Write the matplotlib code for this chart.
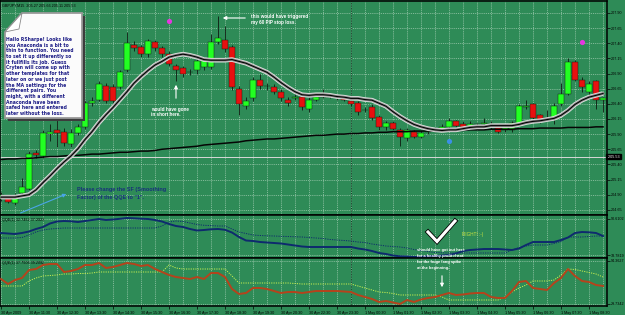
import matplotlib
matplotlib.use('Agg')
import matplotlib.pyplot as plt
import numpy as np
from matplotlib.patches import Polygon, FancyArrowPatch
from matplotlib.lines import Line2D
import matplotlib.patheffects as pe
import matplotlib.transforms as mtransforms

# ---------------- data ----------------
opens = [204.83, 204.86, 204.76, 204.93, 205.00, 205.59, 205.54, 205.91, 205.97, 205.94,
         205.74, 205.92, 206.02, 206.42, 206.47, 206.69, 206.67, 206.67, 206.95, 207.37,
         207.33, 207.22, 207.42, 207.32, 207.23, 207.02, 206.99, 206.92, 206.95, 207.00,
         207.00, 207.42, 207.45, 207.33, 206.64, 206.36, 206.49, 206.80, 206.69, 206.67,
         206.59, 206.46, 206.49, 206.52, 206.31, 206.47, 206.52, 206.54, 206.51, 206.51,
         206.44, 206.41, 206.29, 206.34, 206.19, 206.01, 206.09, 205.97, 205.83, 205.94,
         205.86, 205.93, 205.96, 205.97, 206.01, 206.11, 206.07, 206.04, 206.06, 206.07,
         206.07, 206.02, 205.97, 205.97, 206.07, 206.34, 206.39, 206.21, 206.16, 206.17,
         206.39, 206.57, 207.09, 206.80, 206.60, 206.77, 206.46]
highs = [204.95, 204.90, 204.92, 205.18, 205.62, 205.64, 205.97, 206.06, 206.14, 206.00,
         205.99, 206.07, 206.44, 206.52, 206.77, 206.74, 206.72, 206.95, 207.58, 207.43,
         207.37, 207.47, 207.45, 207.35, 207.27, 207.05, 207.02, 206.97, 207.15, 207.18,
         207.55, 207.85, 207.68, 207.37, 206.69, 206.52, 206.85, 206.89, 206.75, 206.72,
         206.64, 206.52, 206.57, 206.57, 206.52, 206.57, 206.64, 206.57, 206.55, 206.54,
         206.47, 206.44, 206.34, 206.39, 206.22, 206.12, 206.12, 206.00, 206.00, 205.97,
         205.96, 205.99, 206.02, 206.06, 206.16, 206.14, 206.11, 206.11, 206.09, 206.17,
         206.11, 206.04, 206.04, 206.12, 206.39, 206.47, 206.42, 206.24, 206.29, 206.41,
         206.74, 207.15, 207.12, 206.84, 206.77, 206.80, 206.52]
lows = [204.80, 204.76, 204.73, 204.88, 204.97, 205.51, 205.51, 205.78, 205.69, 205.71,
        205.69, 205.89, 205.99, 206.37, 206.44, 206.41, 206.39, 206.64, 206.92, 207.28,
        207.18, 207.18, 207.28, 207.18, 207.02, 206.77, 206.84, 206.87, 206.90, 206.95,
        206.97, 207.38, 207.25, 206.62, 206.22, 206.31, 206.44, 206.64, 206.62, 206.57,
        206.44, 206.37, 206.46, 206.29, 206.27, 206.44, 206.49, 206.49, 206.47, 206.44,
        206.36, 206.22, 206.26, 206.14, 205.97, 205.97, 205.96, 205.71, 205.79, 205.83,
        205.83, 205.90, 205.93, 205.94, 205.97, 206.01, 205.99, 206.01, 206.02, 206.04,
        205.99, 205.92, 205.94, 205.94, 206.04, 206.31, 206.14, 206.09, 206.11, 206.07,
        206.36, 206.54, 206.77, 206.60, 206.54, 206.31, 206.26]
closes = [204.90, 204.78, 204.88, 205.03, 205.58, 205.56, 205.92, 205.94, 205.92, 205.76,
          205.92, 206.01, 206.41, 206.44, 206.72, 206.44, 206.44, 206.92, 207.40, 207.32,
          207.23, 207.43, 207.32, 207.22, 207.05, 206.95, 206.89, 206.93, 207.10, 207.13,
          207.42, 207.48, 207.30, 206.67, 206.39, 206.44, 206.79, 206.69, 206.70, 206.60,
          206.49, 206.42, 206.52, 206.34, 206.47, 206.51, 206.54, 206.52, 206.52, 206.47,
          206.39, 206.27, 206.30, 206.17, 206.01, 206.09, 205.99, 205.86, 205.96, 205.86,
          205.92, 205.95, 205.98, 206.01, 206.12, 206.04, 206.02, 206.07, 206.07, 206.09,
          206.02, 205.94, 206.01, 206.09, 206.36, 206.37, 206.17, 206.14, 206.17, 206.37,
          206.57, 207.09, 206.80, 206.67, 206.72, 206.47, 206.49]

anaconda_ma = [204.86, 204.86, 204.86, 204.88, 204.90, 204.98, 205.10, 205.21, 205.33, 205.44,
               205.54, 205.66, 205.81, 205.94, 206.09, 206.22, 206.34, 206.47, 206.60, 206.74,
               206.85, 206.95, 207.04, 207.10, 207.17, 207.20, 207.22, 207.20, 207.17, 207.13,
               207.12, 207.12, 207.12, 207.13, 207.10, 207.07, 207.02, 206.97, 206.92, 206.84,
               206.75, 206.67, 206.60, 206.55, 206.54, 206.55, 206.55, 206.54, 206.52, 206.51,
               206.49, 206.49, 206.47, 206.46, 206.41, 206.36, 206.27, 206.19, 206.12, 206.06,
               206.02, 205.99, 205.97, 205.96, 205.97, 205.97, 205.99, 206.01, 206.02, 206.02,
               206.04, 206.04, 206.04, 206.04, 206.06, 206.09, 206.11, 206.12, 206.14, 206.16,
               206.21, 206.29, 206.39, 206.46, 206.51, 206.54, 206.57]
slow_ma = [205.48, 205.49, 205.49, 205.50, 205.50, 205.51, 205.52, 205.53, 205.53, 205.54,
           205.55, 205.55, 205.56, 205.57, 205.57, 205.58, 205.59, 205.60, 205.60, 205.61,
           205.62, 205.62, 205.63, 205.65, 205.66, 205.67, 205.68, 205.69, 205.70, 205.72,
           205.73, 205.74, 205.75, 205.76, 205.77, 205.79, 205.80, 205.81, 205.82, 205.82,
           205.83, 205.84, 205.85, 205.86, 205.87, 205.88, 205.88, 205.89, 205.90, 205.90,
           205.91, 205.91, 205.92, 205.92, 205.93, 205.93, 205.94, 205.94, 205.94, 205.95,
           205.95, 205.95, 205.95, 205.96, 205.96, 205.96, 205.96, 205.97, 205.97, 205.97,
           205.98, 205.98, 205.98, 205.98, 205.99, 205.99, 205.99, 206.00, 206.00, 206.00,
           206.00, 206.01, 206.01, 206.01, 206.01, 206.02, 206.02]
current_price = 205.53

qqe1_main = [68.51, 67.72, 66.93, 68.51, 70.88, 74.82, 77.98, 83.51, 86.66, 87.45,
             86.98, 85.87, 87.45, 89.03, 90.61, 89.03, 89.82, 90.93, 92.19, 91.71,
             91.08, 90.61, 89.03, 86.66, 82.72, 79.56, 77.98, 74.82, 72.46, 73.25,
             74.35, 74.82, 73.56, 69.30, 62.19, 56.67, 55.88, 54.30, 53.51, 52.72,
             51.93, 50.36, 48.78, 47.20, 46.41, 46.41, 46.41, 46.41, 46.41, 46.41,
             46.41, 44.04, 42.46, 40.09, 36.94, 35.36, 32.99, 31.73, 31.41, 30.62,
             30.94, 31.73, 32.20, 32.99, 33.78, 36.15, 40.09, 41.67, 42.46, 43.25,
             43.25, 43.25, 42.46, 41.67, 44.04, 49.57, 54.30, 54.30, 54.30, 54.30,
             57.46, 61.40, 68.51, 70.09, 69.61, 68.51, 63.77]
qqe1_trail = [60.62, 60.62, 60.62, 61.41, 65.35, 70.09, 73.25, 74.82, 75.61, 76.40,
              76.40, 76.40, 76.40, 76.40, 76.40, 76.40, 76.40, 76.40, 76.40, 76.40,
              76.40, 76.40, 76.40, 79.56, 85.87, 87.45, 86.66, 84.30, 81.93, 80.66,
              80.19, 79.56, 79.56, 74.82, 70.09, 67.72, 65.35, 64.56, 64.09, 63.77,
              63.30, 62.98, 62.51, 62.19, 61.41, 60.62, 59.83, 58.25, 57.46, 56.67,
              55.88, 54.30, 53.51, 51.15, 49.57, 47.99, 47.20, 46.41, 44.83, 42.46,
              40.88, 39.31, 37.73, 37.25, 36.94, 36.94, 36.94, 36.94, 36.94, 36.94,
              36.94, 36.94, 36.94, 41.67, 45.62, 47.99, 49.57, 49.57, 49.57, 51.93,
              55.09, 62.19, 62.19, 62.19, 62.98, 63.77, 63.77]
qqe2_main = [67.31, 59.79, 65.80, 68.81, 80.83, 82.34, 88.35, 89.85, 89.85, 77.83,
             79.33, 82.34, 88.35, 88.35, 91.35, 83.84, 85.34, 88.35, 91.35, 89.85,
             86.85, 88.35, 82.34, 77.83, 73.32, 70.31, 68.81, 67.31, 70.31, 67.31,
             76.32, 76.32, 70.31, 52.28, 44.76, 46.26, 53.78, 53.78, 52.28, 49.27,
             46.26, 47.77, 47.77, 46.26, 47.77, 49.27, 49.27, 49.27, 49.27, 48.52,
             47.77, 43.26, 40.25, 37.25, 32.74, 34.24, 31.98, 29.73, 35.74, 32.74,
             36.50, 38.75, 40.25, 43.26, 46.26, 43.26, 44.01, 45.51, 46.26, 46.26,
             40.25, 38.75, 38.75, 49.27, 62.80, 64.30, 53.78, 52.28, 50.77, 61.29,
             68.81, 82.34, 71.82, 64.30, 62.80, 58.29, 56.79]
qqe2_trail = [56.79, 56.79, 56.79, 56.79, 64.30, 68.81, 71.82, 72.57, 73.32, 74.82,
              74.82, 75.57, 75.57, 76.32, 77.83, 77.83, 77.83, 77.83, 77.83, 77.83,
              77.83, 77.83, 77.83, 77.83, 88.35, 83.84, 82.34, 82.34, 82.34, 82.34,
              82.34, 82.34, 82.34, 71.82, 61.29, 61.29, 61.29, 61.29, 61.29, 61.29,
              61.29, 61.29, 60.54, 59.79, 59.79, 59.79, 59.79, 59.79, 59.79, 59.79,
              59.79, 56.79, 53.78, 50.77, 47.77, 47.02, 45.51, 43.26, 43.26, 43.26,
              43.26, 43.26, 43.26, 40.25, 35.74, 35.74, 35.74, 35.74, 35.74, 35.74,
              35.74, 35.74, 40.25, 47.77, 53.78, 58.29, 64.30, 64.30, 64.30, 65.80,
              73.32, 82.34, 81.59, 79.33, 77.08, 74.82, 70.31]

pink_bars = [24, 83]
pink_prices = [207.77, 207.42]
blue_bars = [64]
blue_prices = [205.79]
day_start_bar = 50

price_ticks = [207.90, 207.65, 207.40, 207.15, 206.90, 206.65, 206.40, 206.15,
               205.90, 205.65, 205.40, 205.15, 204.90, 204.65]
qqe1_ticks = [90.6102, 33.7819]
qqe2_ticks = [94.3627, 29.7342]
time_label_bars = list(range(0, 85, 4))
time_labels = ["30 Apr 2009", "30 Apr 11:30", "30 Apr 12:30", "30 Apr 13:30", "30 Apr 14:30",
               "30 Apr 15:30", "30 Apr 16:30", "30 Apr 17:30", "30 Apr 18:30", "30 Apr 19:30",
               "30 Apr 20:30", "30 Apr 22:30", "30 Apr 23:30", "1 May 00:30", "1 May 01:30",
               "1 May 02:30", "1 May 03:30", "1 May 04:30", "1 May 05:30", "1 May 06:30",
               "1 May 07:30", "1 May 08:30"]

# ---------------- figure ----------------
W, H = 625, 315
BG = '#2e8b57'
GRID = '#cfe6d5'
fig = plt.figure(figsize=(W / 100, H / 100), dpi=100)
fig.patch.set_facecolor(BG)
plt.rcParams['font.family'] = ['Liberation Sans', 'DejaVu Sans']

def axes_px(top, bottom, left=0, right=607):
    return fig.add_axes([left / W, 1 - bottom / H, (right - left) / W, (bottom - top) / H])

def fpt(x, y):
    return (x / W, 1 - y / H)

ax1 = axes_px(1, 215)
ax2 = axes_px(215, 258)
ax3 = axes_px(258, 306)

n = len(opens)
idx = np.arange(n)
for ax in (ax1, ax2, ax3):
    ax.set_facecolor(BG)
    ax.set_xlim(-0.14, 86.57)
    for s in ax.spines.values():
        s.set_color('black')
        s.set_linewidth(1.1)
    ax.yaxis.tick_right()
    ax.tick_params(axis='y', length=2, width=0.5, pad=1, labelsize=2.7, colors='black')
    ax.set_xticks(time_label_bars)
    ax.set_xticks(list(range(2, 87, 4)), minor=True)
    ax.grid(True, which='both', color=GRID, lw=0.45, ls=(0, (1.5, 1.5)), alpha=0.85)
    ax.axvline(day_start_bar, color='#0c2a18', lw=0.6, ls=(0, (1, 1)), zorder=1)
    if ax is not ax3:
        ax.tick_params(axis='x', which='both', length=0, labelbottom=False)
    ax.tick_params(axis='x', which='minor', length=0)
    ax.set_axisbelow(True)

# main price panel
ax1.set_ylim(204.565, 208.097)
ax1.set_yticks(price_ticks)
ax1.set_yticklabels([f'{v:.2f}' for v in price_ticks])
o = np.array(opens); c = np.array(closes)
up = c >= o
ax1.axhline(current_price, color='#d8d8d8', lw=0.7, zorder=2)
ax1.vlines(idx, lows, highs, color='#0d1a10', lw=0.6, zorder=3)
ax1.bar(idx, np.maximum(np.abs(c - o), 0.012), bottom=np.minimum(o, c), width=0.72,
        color=np.where(up, '#22ff22', '#e81010'), edgecolor='#0f2a12', linewidth=0.35, zorder=4)
ax1.plot(idx, slow_ma, color='#050505', lw=1.1, zorder=5)
ax1.plot(idx, anaconda_ma, color='#e4e4e4', lw=3.3, zorder=5, solid_capstyle='butt')
ax1.plot(idx, anaconda_ma, color='#8e8e8e', lw=2.1, zorder=5)
ax1.plot(idx, anaconda_ma, color='black', lw=0.8, zorder=6)
ax1.scatter(pink_bars, pink_prices, s=14, color='#e535e0', zorder=7, linewidths=0)
ax1.scatter(blue_bars, blue_prices, s=14, color='#3b8fe6', zorder=7, linewidths=0)
ax1.text(1.0, current_price, ' 205.53 ', transform=mtransforms.blended_transform_factory(ax1.transAxes, ax1.transData),
         fontsize=2.7, color='white', va='center', ha='left',
         bbox=dict(facecolor='black', edgecolor='black', pad=0.4), zorder=10, clip_on=False)

# QQE panel 1
ax2.set_ylim(29.05, 96.92)
ax2.set_yticks(qqe1_ticks)
ax2.set_yticklabels(['90.6102', '33.7819'])
ax2.plot(idx, qqe1_trail, color='#0e2a6e', lw=0.7, ls=(0, (1.2, 1.2)), zorder=3)
ax2.plot(idx, qqe1_main, color='#0e2a6e', lw=1.4, zorder=4)

# QQE panel 2
ax3.set_ylim(26.72, 98.87)
ax3.set_yticks(qqe2_ticks)
ax3.set_yticklabels(['94.3627', '29.7342'])
ax3.plot(idx, qqe2_trail, color='#c8f050', lw=0.7, ls=(0, (1.2, 1.2)), zorder=3)
ax3.plot(idx, qqe2_main, color='#b5431c', lw=1.4, zorder=4)
ax3.set_xticklabels(time_labels, fontsize=2.7, ha='left')
ax3.tick_params(axis='x', which='major', length=2, width=0.5, pad=1.5, colors='black')

# ---------------- annotations (figure pixel positions) ----------------
small = dict(fontsize=2.7, color='black')
fig.text(*fpt(2, 5.5), 'GBPJPY,M15  205.27 205.66 205.11 205.53', va='center', ha='left', **small)
fig.text(*fpt(2, 220), 'QQE(1) 32.7462 37.2023', va='center', ha='left', **small)
fig.text(*fpt(2, 263), 'QQE(1) 37.7506 39.2092', va='center', ha='left', **small)

# note box with folded corner
shadow = Polygon([fpt(25, 16), fpt(85, 16), fpt(85, 121), fpt(8, 121), fpt(8, 35)],
                 closed=True, transform=fig.transFigure, facecolor='#3c3c3c', edgecolor='none', zorder=20)
box = Polygon([fpt(22, 13), fpt(82, 13), fpt(82, 118), fpt(5, 118), fpt(5, 32)],
              closed=True, transform=fig.transFigure, facecolor='#fbfbfb', edgecolor='#9a9a9a', lw=1.3, zorder=21)
fold = Polygon([fpt(5, 32), fpt(22, 13), fpt(19, 29)], closed=True, transform=fig.transFigure,
               facecolor='#ffffff', edgecolor='#8a8a8a', lw=0.6, zorder=22)
for p in (shadow, box, fold):
    fig.add_artist(p)
note_lines = ["Hallo RSharpe! Looks like", "you Anaconda is a bit to", "thin to function. You need",
              "to set it up differently so", "it fullfills its job. Guess", "Cryten will come up with",
              "other templates for that", "later on or we just post", "the MA settings for the",
              "different pairs. You", "might, with a different", "Anaconda have been",
              "safed here and entered", "later without the loss."]
for k, line in enumerate(note_lines):
    fig.text(*fpt(6, 39.5 + 5.7 * k), line, fontsize=3.25, fontweight='bold', color='#1c1c86',
             family='DejaVu Sans', va='center', ha='left', zorder=23)

white_bold = dict(fontsize=3.3, color='white', fontweight='bold', va='center', ha='left', zorder=23)
fig.text(*fpt(251, 16.5), 'this would have triggered', **white_bold)
fig.text(*fpt(251, 22.5), 'my 60 PIP stop loss.', **white_bold)
fig.text(*fpt(151, 109.5), 'would have gone', **white_bold)
fig.text(*fpt(151, 115), 'in short here.', **white_bold)
small_white = dict(fontsize=2.85, color='white', fontweight='bold', va='center', ha='left', zorder=23)
for k, line in enumerate(["should have got out here", "for a healthy profit if not",
                          "for the huge long spike", "at the beginning."]):
    fig.text(*fpt(417, 250.5 + 5.9 * k), line, **small_white)
navy = dict(fontsize=4.0, color='#17307a', fontweight='bold', va='center', ha='left', zorder=23)
fig.text(*fpt(77, 189.5), 'Please change the SF (Smoothing', **navy)
fig.text(*fpt(77, 197), 'Factor) of the QQE to "1".', **navy)
fig.text(*fpt(462, 234.5), 'RIGHT! :-)', fontsize=3.3, color='#cfe840', va='center', ha='left', zorder=23)

def arrow(p0, p1, color='white', lw=0.8, ms=5):
    fig.add_artist(FancyArrowPatch(fpt(*p0), fpt(*p1), transform=fig.transFigure, arrowstyle='-|>',
                                   mutation_scale=ms, color=color, lw=lw, zorder=23))

arrow((248, 18), (220, 18))
arrow((176, 101), (176, 82))
arrow((442, 273), (442, 290))
arrow((18, 214), (69, 193), color='#4aa6e8', lw=0.8, ms=5)

check = Line2D([428 / W, 437 / W, 455 / W], [1 - 232 / H, 1 - 241.5 / H, 1 - 221 / H],
               transform=fig.transFigure, color='white', lw=2.2, solid_joinstyle='miter',
               path_effects=[pe.Stroke(linewidth=3.4, foreground='black'), pe.Normal()], zorder=23)
fig.add_artist(check)

fig.savefig('out.png', dpi=100, facecolor=BG)
